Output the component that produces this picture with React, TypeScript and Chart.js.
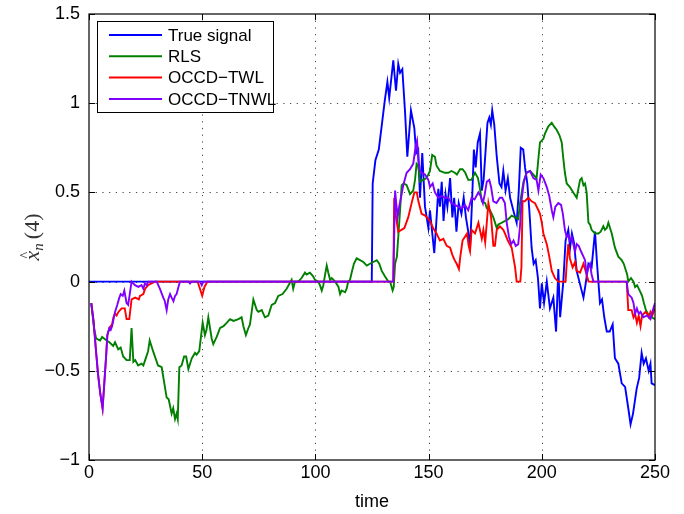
import React, { useEffect, useRef } from "react";
import { Chart, registerables } from "chart.js";

Chart.register(...registerables);

const xTicks = [0, 50, 100, 150, 200, 250];
const yTicks = [-1, -0.5, 0, 0.5, 1, 1.5];
const seriesNames = ["True signal", "RLS", "OCCD\u2212TWL", "OCCD\u2212TNWL"];
const seriesColors = ["#0000ff", "#007f00", "#ff0000", "#7f00ff"];

const trueSignal: [number, number][] = [
  [0, 0], [124.9, 0], [125.3, 0.55], [126.5, 0.68], [128, 0.74], [130.7, 1.02], [131.8, 1.12], [132.6, 1.03],
  [134.4, 1.24], [135.6, 1.07], [136.6, 1.22], [137.4, 1.17], [138.4, 1.19], [139.6, 0.95], [140.6, 0.7],
  [142.2, 0.96], [143.7, 0.86], [144.5, 0.72], [145.4, 0.74], [146.2, 0.47], [147.2, 0.72], [148.4, 0.42],
  [149.9, 0.3], [150.6, 0.4], [152.5, 0.16], [153.2, 0.29], [154.3, 0.52], [155, 0.42], [155.8, 0.56],
  [156.6, 0.34], [157.5, 0.49], [158.3, 0.42], [159.5, 0.58], [160.5, 0.36], [161.3, 0.47], [162.3, 0.28],
  [163.3, 0.44], [164.5, 0.38], [165.5, 0.47], [166.5, 0.36], [167.5, 0.28], [168.3, 0.19], [169.2, 0.45],
  [170, 0.74], [170.8, 0.64], [171.7, 0.78], [172.7, 0.83], [173.5, 0.51], [174.3, 0.57], [175.2, 0.74],
  [176, 0.89], [176.8, 0.92], [177.5, 0.88], [178.1, 0.96], [179, 0.88], [180.1, 0.7], [181.3, 0.55],
  [182.2, 0.53], [183, 0.62], [184, 0.51], [185, 0.58], [186, 0.47], [187.4, 0.4], [188.9, 0.33],
  [189.8, 0.5], [190.7, 0.75], [191.8, 0.74], [192.6, 0.64], [193.6, 0.55], [194.5, 0.4], [195.5, 0.19],
  [196.4, 0.1], [197.3, 0.12], [198.3, 0.02], [199.2, -0.15], [200, -0.01], [201, -0.12], [202.2, 0],
  [203.6, -0.15], [205.1, -0.09], [206.3, -0.28], [207.3, 0.07], [208.1, -0.2], [209.5, 0], [210.5, 0.23],
  [211.7, 0.29], [212.5, 0.19], [213.3, 0.27], [214.2, 0.22], [215.4, 0.06], [216.8, -0.01], [218.4, -0.09],
  [219.4, -0.01], [220.6, 0.1], [222, 0.08], [223.5, 0.28], [224.4, 0.1], [225.7, -0.12], [226.6, -0.1],
  [227.6, -0.2], [228.7, -0.28], [230, -0.28], [231.3, -0.24], [232.3, -0.43], [233.8, -0.46], [235.3, -0.57],
  [236.8, -0.59], [238.2, -0.71], [239.2, -0.8], [240.3, -0.74], [241.9, -0.6], [243, -0.54], [244.1, -0.4],
  [245, -0.46], [246, -0.43], [247.2, -0.5], [248, -0.46], [248.5, -0.57], [250, -0.58],
];

const rls: [number, number][] = [
  [1, -0.12], [2.3, -0.27], [3.2, -0.32], [4.9, -0.33], [5.8, -0.31], [7.8, -0.33], [9, -0.34], [10.7, -0.36],
  [11.5, -0.34], [12.9, -0.38], [14, -0.37], [15.1, -0.42], [16.6, -0.44], [18, -0.44], [18.8, -0.26],
  [19.6, -0.45], [20.4, -0.44], [21.7, -0.47], [23.2, -0.46], [24, -0.47], [24.8, -0.44], [26.1, -0.39],
  [26.8, -0.33], [28.3, -0.39], [30.5, -0.47], [32.1, -0.48], [34.3, -0.65], [35.2, -0.66], [36.5, -0.74],
  [37.2, -0.71], [38, -0.77], [38.7, -0.74], [39.2, -0.77], [39.9, -0.48], [40.9, -0.47], [42, -0.42],
  [42.9, -0.42], [43.9, -0.49], [45.4, -0.43], [46.8, -0.4], [47.5, -0.41], [48.7, -0.39], [50.2, -0.23],
  [51.2, -0.3], [51.9, -0.27], [52.7, -0.2], [54.2, -0.32], [54.9, -0.35], [56.4, -0.31], [57.9, -0.26],
  [59.4, -0.25], [60.9, -0.23], [62.3, -0.21], [63.8, -0.22], [66, -0.21], [67.4, -0.2], [68.2, -0.25],
  [69.3, -0.3], [70.4, -0.26], [71.1, -0.24], [72.6, -0.1], [74.1, -0.16], [74.8, -0.17], [76.3, -0.16],
  [77.7, -0.2], [79.2, -0.19], [80.7, -0.13], [82.2, -0.12], [83.6, -0.08], [85.5, -0.07], [87.3, -0.04],
  [89.5, 0.01], [90.2, -0.04], [91, 0], [92.4, 0], [93.9, 0.02], [95.4, 0.05], [96.1, 0.04], [97.6, 0.05],
  [99, 0.03], [99.8, 0.01], [101.3, 0], [102, -0.02], [102.8, -0.05], [103.5, -0.02], [104.3, 0.04],
  [105, 0.09], [105.7, 0.05], [106.5, 0.01], [107.2, 0.02], [108, 0.01], [108.7, 0], [110.2, -0.03],
  [110.9, -0.07], [111.6, -0.05], [113.1, -0.06], [113.8, -0.04], [114.5, 0], [115.3, 0.01], [116, 0.05],
  [117, 0.1], [118.2, 0.13], [119.7, 0.12], [121.2, 0.11], [122.7, 0.09], [124.1, 0.1], [125.6, 0.11],
  [127.1, 0.12], [128.2, 0.1], [129.3, 0.06], [130.7, 0.03], [132.2, 0], [133, 0], [134.1, -0.05],
  [134.6, -0.03], [135.2, 0.1], [136, 0.14], [136.6, 0.25], [137.4, 0.4], [138.1, 0.54], [139, 0.55],
  [140.3, 0.54], [141.8, 0.49], [143.2, 0.51], [144, 0.57], [144.7, 0.66], [145.4, 0.65], [146.2, 0.56],
  [147.6, 0.57], [149.1, 0.58], [150.6, 0.62], [151.6, 0.71], [152.8, 0.7], [153.5, 0.65], [155, 0.62],
  [157.2, 0.61], [158.7, 0.61], [160.1, 0.62], [161.6, 0.61], [162.5, 0.6], [163.9, 0.63], [165, 0.63],
  [166.2, 0.61], [167.5, 0.57], [168.9, 0.57], [170.5, 0.61], [171.8, 0.58], [172.7, 0.52], [173.5, 0.45],
  [175, 0.44], [175.7, 0.41], [177.1, 0.4], [178.6, 0.36], [180.1, 0.3], [180.8, 0.32], [182.3, 0.33],
  [183.8, 0.34], [185.2, 0.35], [186.7, 0.37], [188.2, 0.36], [189.6, 0.35], [190.4, 0.44], [191.9, 0.56],
  [193.3, 0.61], [194.8, 0.62], [196.3, 0.6], [197.7, 0.58], [198.5, 0.69], [199.2, 0.78], [200.7, 0.8],
  [201.4, 0.83], [202.9, 0.87], [204.4, 0.89], [205.4, 0.87], [206.6, 0.85], [207.8, 0.82], [208.8, 0.78],
  [209.5, 0.69], [210.2, 0.61], [211, 0.55], [212.4, 0.53], [213.9, 0.5], [215.4, 0.47], [216.9, 0.57],
  [217.6, 0.58], [218.4, 0.54], [219.1, 0.55], [219.8, 0.5], [220.6, 0.33], [221.3, 0.32], [222, 0.29],
  [223.5, 0.27], [225, 0.27], [226, 0.28], [227.2, 0.31], [227.9, 0.29], [228.7, 0.3], [229.4, 0.33],
  [230.9, 0.27], [232.3, 0.19], [233.8, 0.14], [235.3, 0.12], [236.2, 0.1], [237.7, 0.04], [238.2, 0],
  [239.4, 0.02], [240.5, 0], [241.2, -0.03], [242.1, -0.02], [243.6, -0.06], [244.3, -0.08], [245.1, -0.12],
  [246, -0.16], [247.3, -0.19], [248.5, -0.2], [250, -0.21],
];

const occdTwl: [number, number][] = [
  [1, -0.12], [2, -0.22], [3.1, -0.39], [4, -0.52], [5, -0.63], [6, -0.71], [6.6, -0.6], [7.6, -0.41],
  [8.1, -0.3], [9, -0.26], [10.2, -0.24], [10.8, -0.2], [11.5, -0.18], [12.2, -0.19], [13, -0.17],
  [14.4, -0.15], [15.8, -0.15], [16.6, -0.21], [17.8, -0.21], [18.8, -0.1], [20.4, -0.09], [22, -0.1],
  [22.5, -0.08], [24, -0.07], [24.8, -0.04], [26.1, -0.02], [27.6, -0.01], [29.2, 0], [48, 0], [49, -0.04],
  [50, -0.08], [51, -0.03], [52.3, 0], [134.4, 0], [134.8, 0.47], [135.4, 0.38], [136.6, 0.28], [138, 0.29],
  [139.3, 0.3], [141, 0.36], [142.5, 0.44], [143.7, 0.5], [144.8, 0.5], [145.5, 0.45], [146.9, 0.38],
  [148.5, 0.37], [150.6, 0.34], [152, 0.3], [153.5, 0.27], [155, 0.23], [156.5, 0.24], [158, 0.2],
  [159.5, 0.19], [160.5, 0.15], [161.5, 0.12], [162.4, 0.1], [163.4, 0.07], [164, 0.14], [165, 0.23],
  [167, 0.27], [167.7, 0.2], [168.3, 0.17], [169, 0.29], [170.5, 0.27], [172, 0.33], [173.5, 0.24],
  [174.2, 0.29], [175, 0.22], [176.4, 0.44], [177.6, 0.36], [178.6, 0.2], [179.3, 0.2], [180.1, 0.29],
  [181.5, 0.31], [183, 0.29], [183.7, 0.27], [185, 0.23], [186.7, 0.19], [188.2, 0.08], [188.9, 0],
  [190.5, 0], [191, 0.08], [191.5, 0.45], [192.5, 0.45], [194, 0.47], [195.5, 0.45], [197, 0.44],
  [198.5, 0.4], [199.2, 0.38], [200, 0.33], [200.7, 0.27], [202.2, 0.21], [203.3, 0.14], [204.4, 0.06],
  [205.8, 0.02], [207.3, 0], [210.5, 0], [211, 0.1], [211.7, 0.21], [212.4, 0.13], [213.6, 0.08],
  [214.7, 0.11], [215.4, 0.06], [216.9, 0.05], [218.4, 0.1], [219.8, 0.04], [220.6, 0], [237.5, 0],
  [238.2, -0.16], [239.7, -0.16], [240.5, -0.2], [241.2, -0.18], [242, -0.23], [242.8, -0.19], [243.6, -0.25],
  [244.3, -0.19], [245, -0.18], [245.8, -0.17], [246.5, -0.18], [247.3, -0.2], [248, -0.17], [248.8, -0.19],
  [250, -0.15],
];

const occdTnwl: [number, number][] = [
  [1, -0.12], [2, -0.22], [3.1, -0.39], [4, -0.52], [5, -0.63], [6, -0.71], [6.6, -0.6], [7.6, -0.41],
  [8.1, -0.3], [9, -0.26], [9.6, -0.27], [10.2, -0.25], [11.5, -0.17], [12.5, -0.13], [13.4, -0.09],
  [14, -0.07], [14.9, -0.08], [15.6, -0.05], [16.6, -0.12], [17.3, -0.13], [18, -0.07], [18.8, 0],
  [19.5, -0.01], [20.3, -0.02], [21.8, -0.03], [23.2, -0.02], [24, -0.04], [24.7, -0.01], [25.5, -0.02],
  [26.2, 0], [29.9, 0], [31.3, -0.04], [32.8, -0.09], [33.5, -0.11], [34.3, -0.16], [35, -0.1], [35.8, -0.07],
  [36.5, -0.09], [37.3, -0.11], [38, -0.08], [38.7, -0.07], [39.5, -0.03], [40.2, 0], [44, 0], [44.6, -0.01],
  [45.3, 0], [49, 0], [49.8, -0.02], [50.5, 0], [134.4, 0], [135.2, 0.51], [135.7, 0.44], [136.3, 0.36],
  [137, 0.42], [137.8, 0.47], [138.8, 0.54], [140.3, 0.61], [141.8, 0.63], [143.2, 0.66], [144.3, 0.76],
  [144.9, 0.79], [145.5, 0.68], [146.2, 0.62], [146.9, 0.61], [148.4, 0.6], [149.9, 0.57], [150.6, 0.53],
  [151.8, 0.55], [152.8, 0.5], [154.3, 0.47], [155.8, 0.48], [157.2, 0.47], [158.7, 0.47], [160, 0.44],
  [161.5, 0.43], [163.1, 0.42], [164.6, 0.41], [166, 0.43], [167.5, 0.4], [169, 0.47], [170.3, 0.46],
  [172, 0.5], [173, 0.48], [174, 0.44], [174.8, 0.49], [175.7, 0.56], [176.8, 0.57], [177.6, 0.53],
  [178.6, 0.45], [180, 0.44], [181.5, 0.47], [182.5, 0.47], [183.7, 0.44], [184.5, 0.33], [185.5, 0.25],
  [186.5, 0.21], [187.5, 0.23], [188.5, 0.2], [189.6, 0.21], [190.3, 0.3], [191.1, 0.46], [192.1, 0.56],
  [193.3, 0.61], [194.8, 0.62], [196.3, 0.58], [197.7, 0.57], [198.5, 0.51], [199.5, 0.6], [200.7, 0.58],
  [202.2, 0.53], [203.3, 0.48], [204.4, 0.4], [205.1, 0.36], [206, 0.42], [207.3, 0.44], [208.5, 0.43],
  [209.3, 0.38], [210.2, 0.29], [211, 0.25], [211.7, 0.26], [212.4, 0.23], [213.2, 0.25], [213.9, 0.21],
  [214.7, 0.17], [215.4, 0.21], [216.3, 0.2], [217.3, 0.17], [218.4, 0.14], [219.1, 0.12], [219.8, 0.04],
  [220.6, 0.08], [221.3, 0.1], [222, 0.04], [222.8, 0], [237.5, 0], [238.2, -0.07], [239.7, -0.09],
  [240.5, -0.12], [241.2, -0.18], [242, -0.15], [242.8, -0.18], [243.6, -0.17], [244.9, -0.2],
  [246.5, -0.19], [248, -0.21], [248.8, -0.17], [250, -0.12],
];

const allSeries = [trueSignal, rls, occdTwl, occdTnwl];
const SANS = "'Liberation Sans', Arial, Helvetica, sans-serif";

const fmtTick = (v: number) => (v < 0 ? "\u2212" + String(Math.abs(v)) : String(v));

const framePlugin = {
  id: "matlabFrame",
  beforeDatasetsDraw(chart: any) {
    const { ctx, chartArea: a, scales } = chart;
    ctx.save();
    ctx.strokeStyle = "#444";
    ctx.lineWidth = 1;
    ctx.setLineDash([1.2, 5.5]);
    xTicks.slice(1, -1).forEach((t) => {
      const x = Math.round(scales.x.getPixelForValue(t)) + 0.5;
      ctx.beginPath(); ctx.moveTo(x, a.top); ctx.lineTo(x, a.bottom); ctx.stroke();
    });
    yTicks.slice(1, -1).forEach((t) => {
      const y = Math.round(scales.y.getPixelForValue(t)) + 0.5;
      ctx.beginPath(); ctx.moveTo(a.left, y); ctx.lineTo(a.right, y); ctx.stroke();
    });
    ctx.restore();
  },
  afterDatasetsDraw(chart: any) {
    const { ctx, chartArea: a, scales } = chart;
    ctx.save();
    ctx.strokeStyle = "#000";
    ctx.lineWidth = 1.2;
    ctx.setLineDash([]);
    ctx.strokeRect(a.left, a.top, a.right - a.left, a.bottom - a.top);
    const L = 6;
    ctx.lineWidth = 1;
    xTicks.forEach((t) => {
      const x = Math.round(scales.x.getPixelForValue(t)) + 0.5;
      ctx.beginPath(); ctx.moveTo(x, a.bottom); ctx.lineTo(x, a.bottom - L); ctx.stroke();
      ctx.beginPath(); ctx.moveTo(x, a.top); ctx.lineTo(x, a.top + L); ctx.stroke();
    });
    yTicks.forEach((t) => {
      const y = Math.round(scales.y.getPixelForValue(t)) + 0.5;
      ctx.beginPath(); ctx.moveTo(a.left, y); ctx.lineTo(a.left + L, y); ctx.stroke();
      ctx.beginPath(); ctx.moveTo(a.right, y); ctx.lineTo(a.right - L, y); ctx.stroke();
    });
    ctx.restore();
  },
  afterDraw(chart: any) {
    const { ctx, chartArea: a } = chart;
    // legend
    ctx.save();
    const bx = a.left + 8, by = a.top + 7, bw = 176, bh = 91;
    ctx.fillStyle = "#fff";
    ctx.fillRect(bx, by, bw, bh);
    ctx.strokeStyle = "#000";
    ctx.lineWidth = 1;
    ctx.strokeRect(bx + 0.5, by + 0.5, bw, bh);
    ctx.font = `17px ${SANS}`;
    ctx.textBaseline = "middle";
    ctx.textAlign = "left";
    seriesNames.forEach((name, i) => {
      const y = by + 14 + i * 21.3;
      ctx.strokeStyle = seriesColors[i];
      ctx.lineWidth = 2;
      ctx.beginPath(); ctx.moveTo(bx + 12, y); ctx.lineTo(bx + 65, y); ctx.stroke();
      ctx.fillStyle = "#000";
      ctx.fillText(name, bx + 71, y + 1);
    });
    ctx.restore();

    // y-axis label  x̂_n(4)
    ctx.save();
    const cx = 33, cy = (a.top + a.bottom) / 2;
    ctx.translate(cx, cy);
    ctx.rotate(-Math.PI / 2);
    ctx.fillStyle = "#333";
    ctx.textBaseline = "alphabetic";
    ctx.textAlign = "left";
    const fIt = "italic 22px 'Liberation Serif', 'DejaVu Serif', serif";
    const fSub = "italic 15px 'Liberation Serif', 'DejaVu Serif', serif";
    const fUp = "22px 'Liberation Serif', 'DejaVu Serif', serif";
    ctx.font = fIt; const wx = ctx.measureText("x").width;
    ctx.font = fSub; const wn = ctx.measureText("n").width;
    ctx.font = fUp; const wp = ctx.measureText("(4)").width;
    const total = wx + wn + 4 + wp;
    let x0 = -total / 2;
    const base = 6;
    ctx.font = fIt; ctx.fillText("x", x0, base);
    ctx.font = "14px 'Liberation Serif', serif";
    ctx.fillText("^", x0 + wx / 2 - 3, base - 9);
    x0 += wx;
    ctx.font = fSub; ctx.fillText("n", x0, base + 4);
    x0 += wn + 4;
    ctx.font = fUp; ctx.fillText("(4)", x0, base);
    ctx.restore();
  },
};

export default function App() {
  const ref = useRef<HTMLCanvasElement | null>(null);
  useEffect(() => {
    if (!ref.current) return;
    const chart = new Chart(ref.current, {
      type: "line",
      data: {
        datasets: allSeries.map((s, i) => ({
          label: seriesNames[i],
          data: s.map(([x, y]) => ({ x, y })),
          borderColor: seriesColors[i],
          backgroundColor: seriesColors[i],
          borderWidth: 1.9,
          pointRadius: 0,
          tension: 0,
          fill: false,
          order: 4 - i,
        })),
      },
      options: {
        responsive: false,
        animation: false,
        devicePixelRatio: 1,
        layout: { padding: { left: 0, right: 29, top: 14, bottom: 0 } },
        plugins: { legend: { display: false }, tooltip: { enabled: false } },
        scales: {
          x: {
            type: "linear",
            min: 0,
            max: 250,
            afterBuildTicks: (s: any) => { s.ticks = xTicks.map((v) => ({ value: v })); },
            grid: { display: false, drawTicks: false },
            border: { display: false },
            ticks: { color: "#000", font: { family: SANS, size: 18 }, padding: 2, maxRotation: 0, autoSkip: false },
            title: { display: true, text: "time", color: "#000", font: { family: SANS, size: 18 }, padding: { top: 0, bottom: 1 } },
            afterFit: (s: any) => { s.height = 54; s.paddingLeft = 0; s.paddingRight = 0; },
          },
          y: {
            type: "linear",
            min: -1,
            max: 1.5,
            afterBuildTicks: (s: any) => { s.ticks = yTicks.map((v) => ({ value: v })); },
            grid: { display: false, drawTicks: false },
            border: { display: false },
            ticks: { color: "#000", font: { family: SANS, size: 18 }, padding: 9, callback: (v: any) => fmtTick(Number(v)) },
            afterFit: (s: any) => { s.width = 89; s.paddingTop = 0; s.paddingBottom = 0; },
          },
        },
      },
      plugins: [framePlugin],
    } as any);
    return () => chart.destroy();
  }, []);
  return (
    <div style={{ position: "fixed", left: 0, top: 0, width: 684, height: 514, background: "#fff" }}>
      <canvas ref={ref} width={684} height={514} style={{ display: "block", width: 684, height: 514 }} />
    </div>
  );
}
